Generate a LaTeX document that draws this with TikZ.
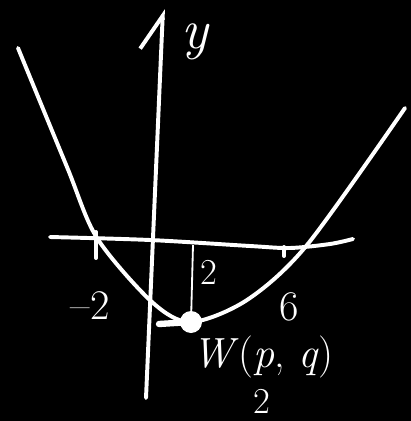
\documentclass[tikz,border=0pt]{standalone}
\usetikzlibrary{arrows.meta}
\definecolor{chalk}{HTML}{FFFFFF}

\begin{document}
\begin{tikzpicture}[x=0.025cm,y=-0.025cm,
  pen/.style={draw=chalk,line width=2.8pt,line cap=round,line join=round},
  thinpen/.style={draw=chalk,line width=1.3pt},
  lbl/.style={text=chalk,inner sep=0pt,font=\fontsize{30}{32}\selectfont}]
  \fill[black] (0,0) rectangle (411,421);
  \useasboundingbox (0,0) rectangle (411,421);
  % axes
  \coordinate (ybot) at (146,398); \coordinate (ytop) at (163,9);
  \draw[pen,-{Straight Barb[left,length=24pt,width=30pt]}] (ybot) -- (ytop);
  \draw[pen] plot[smooth] coordinates {(50,237) (150,240) (250,246) (290,248) (330,244) (353,239)};
  \draw[pen] (96,232) -- (96,258);
  \draw[pen] (284,247) -- (284,256);
  % parabola
  \draw[pen] plot[smooth] coordinates {(18,48) (67,167) (97,238) (152,302) (191,322)
    (247,300) (307,245) (405,108)};
  % vertex
  \coordinate (vertex) at (191,322); \coordinate (foot) at (193,245);
  \draw[thinpen] (vertex) -- (foot);
  \draw[pen,line width=4.5pt] (159,324) -- (vertex);
  \fill[chalk] (vertex) circle (11);
  % labels
  \node[lbl,font=\fontsize{40}{42}\selectfont\itshape] (ylab) at (195,42) {y};
  \node[lbl,font=\fontsize{26}{28}\selectfont] (hlab) at (209,272) {2};
  \node[lbl] (mlab) at (90,306) {–2};
  \node[lbl] (slab) at (289,307) {6};
  \node[lbl] (wlab) at (263,357) {\textit{W}(\textit{p}, \textit{q})};
  \node[lbl,font=\fontsize{26}{28}\selectfont] (plab) at (262,401) {2};
\end{tikzpicture}
\end{document}
